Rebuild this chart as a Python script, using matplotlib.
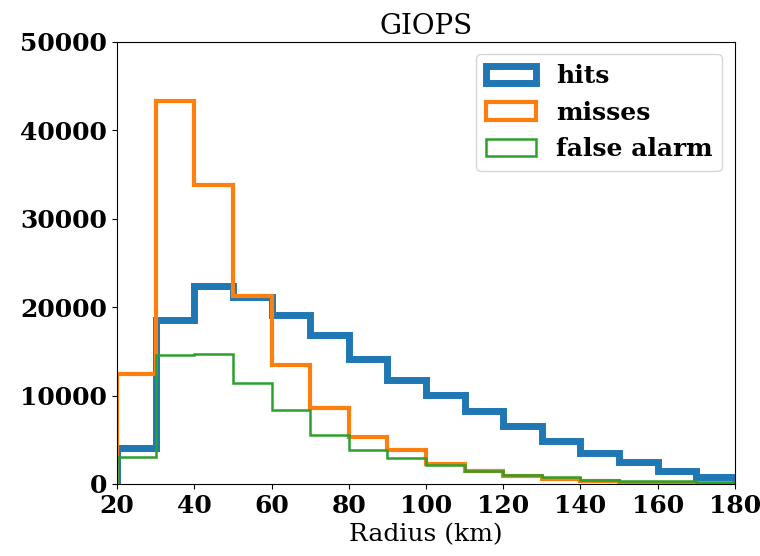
import matplotlib
matplotlib.use("Agg")
import matplotlib.pyplot as plt
import numpy as np

edges = [20, 30, 40, 50, 60, 70, 80, 90, 100, 110, 120, 130, 140, 150, 160, 170, 180]
hits = [4100, 18550, 22400, 21100, 19150, 16850, 14150, 11800, 10050, 8250, 6600, 4850, 3500, 2500, 1450, 750]
misses = [12400, 43300, 33800, 21300, 13450, 8550, 5350, 3800, 2300, 1500, 900, 550, 350, 150, 50, 20]
false_alarm = [3050, 14550, 14750, 11450, 8400, 5500, 3900, 2900, 2100, 1500, 1000, 750, 500, 350, 300, 200]

plt.rcParams['font.family'] = ['DejaVu Serif']
fig = plt.figure(figsize=(7.6, 5.56), dpi=100)
ax = fig.add_axes([0.154, 0.1295, 0.813, 0.795])

centers = [(a + b) / 2 for a, b in zip(edges[:-1], edges[1:])]
ax.hist(centers, bins=edges, weights=hits, histtype='step', color='#1f77b4', linewidth=5, label='hits')
ax.hist(centers, bins=edges, weights=misses, histtype='step', color='#ff7f0e', linewidth=3, label='misses')
ax.hist(centers, bins=edges, weights=false_alarm, histtype='step', color='#2ca02c', linewidth=1.8, label='false alarm')

ax.set_xlim(20, 180)
ax.set_ylim(0, 50000)
ax.set_xticks([20, 40, 60, 80, 100, 120, 140, 160, 180])
ax.set_yticks([0, 10000, 20000, 30000, 40000, 50000])
for lab in ax.get_xticklabels() + ax.get_yticklabels():
    lab.set_fontweight('bold')
    lab.set_fontsize(18)
ax.set_xlabel('Radius (km)', fontsize=18)
ax.set_title('GIOPS', fontsize=20)
ax.legend(loc='upper right', prop={'weight': 'bold', 'size': 18})

fig.savefig('out.png', dpi=100)
